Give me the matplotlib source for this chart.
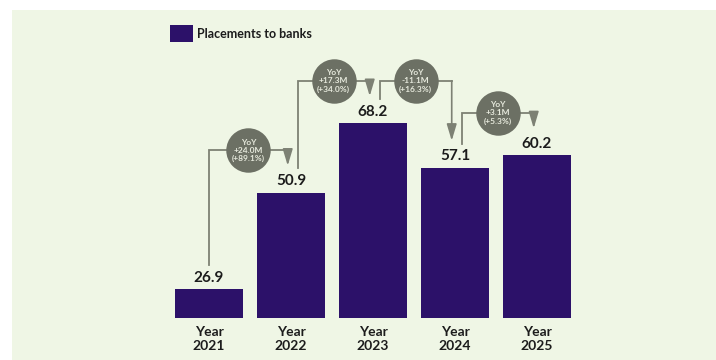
import matplotlib
matplotlib.use('Agg')
import matplotlib.pyplot as plt
from matplotlib.patches import Rectangle

# dati
anni = ['2021', '2022', '2023', '2024', '2025']
valori = [26.9, 50.9, 68.2, 57.1, 60.2]
delta = ['+24.0M', '+17.3M', '-11.1M', '+3.1M']
delta_pct = ['(+89.1%)', '(+34.0%)', '(+16.3%)', '(+5.3%)']

col_barre = '#2c1169'
col_sfondo = '#eff6e5'
col_linee = '#7d8174'
col_cerchio = '#6c7064'
col_testo = '#1c1c1c'

plt.rcParams['font.family'] = ['Lato', 'DejaVu Sans']

W, H = 716, 360
fig = plt.figure(figsize=(W / 100, H / 100), dpi=100)
fig.patch.set_facecolor('white')
fig.add_artist(Rectangle((12 / W, 0), 1, 350 / H, transform=fig.transFigure,
                         facecolor=col_sfondo, edgecolor='none', zorder=-1))

# asse posizionato in pixel
ax = fig.add_axes([168 / W, 42 / H, 410 / W, 283 / H])
ax.set_zorder(1)
ax.set_facecolor('none')
ax.set_xlim(-0.5, 4.5)
ax.set_ylim(19.7, 90.1)

xs = list(range(len(anni)))
ax.bar(xs, valori, width=0.84, color=col_barre, zorder=2)

for x, v in zip(xs, valori):
    ax.annotate(f'{v:.1f}', (x, v), xytext=(0, 3), textcoords='offset points',
                ha='center', va='bottom', fontsize=11, fontweight='bold', color=col_testo)

# connettori YoY tra le barre
for i in range(len(delta)):
    x0 = xs[i] + (0.0 if i == 0 else 0.08)
    x1 = xs[i + 1] - 0.04
    v0, v1 = valori[i], valori[i + 1]
    livello = max(v0, v1) + 10.5
    ax.plot([x0, x0, x1], [v0 + 6, livello, livello], color=col_linee, lw=1.3,
            zorder=3, clip_on=False, solid_joinstyle='miter')
    ax.annotate('', xy=(x1, v1 + 6.7), xytext=(x1, livello),
                arrowprops=dict(arrowstyle='-|>,head_length=1.0,head_width=0.3',
                                color=col_linee, lw=1.2, shrinkA=0, shrinkB=0),
                zorder=3)
    xc = (x0 + x1) / 2
    ax.plot([xc], [livello], marker='o', markersize=32, color=col_cerchio,
            markeredgewidth=0, zorder=4, clip_on=False)
    ax.text(xc, livello, f'YoY\n{delta[i]}\n{delta_pct[i]}', ha='center', va='center',
            fontsize=6, fontweight='bold', color='#e6e9dc', linespacing=1.2, zorder=5)

ax.set_xticks(xs)
ax.set_xticklabels([f'Year\n{a}' for a in anni], fontsize=10, fontweight='bold',
                   color=col_testo, linespacing=1.2)
ax.tick_params(axis='x', length=0, pad=6)
ax.set_yticks([])
for s in ax.spines.values():
    s.set_visible(False)

# legenda
fig.add_artist(Rectangle((170 / W, 1 - 42 / H), 23 / W, 17 / H, transform=fig.transFigure,
                         facecolor=col_barre, edgecolor='none', zorder=2))
fig.text(197 / W, 1 - 33.5 / H, 'Placements to banks', ha='left', va='center',
         fontsize=9, fontweight='bold', color=col_testo)

fig.savefig('out.png', dpi=100, facecolor=fig.get_facecolor())
